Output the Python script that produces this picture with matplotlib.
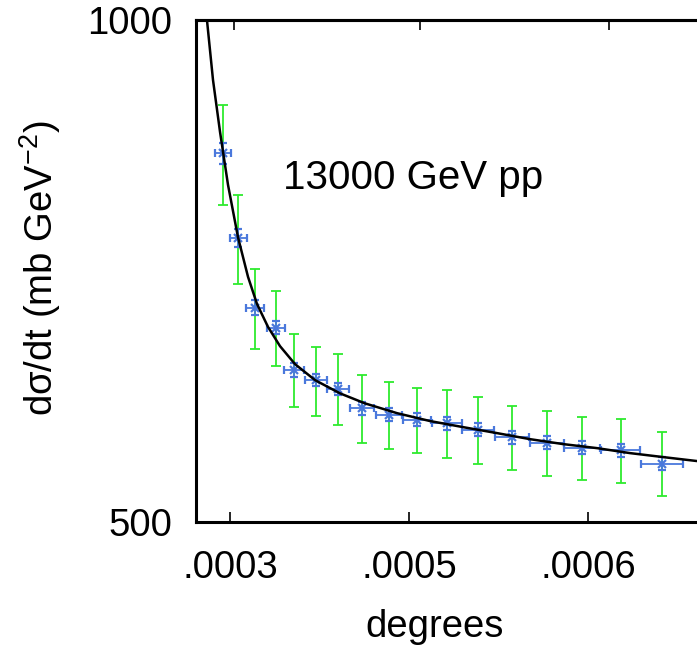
"""
    dσ/dt vs angle, 13000 GeV pp (Coulomb-nuclear region)
"""
import matplotlib
matplotlib.use("Agg")
import matplotlib.pyplot as plt

# data points (x axis in |t| GeV^2, labelled with angle in degrees)
t_pts = [0.001137, 0.001272, 0.001423, 0.001611, 0.001772, 0.001969, 0.002165,
         0.002380, 0.002621, 0.002871, 0.003139, 0.003416, 0.003720, 0.004033,
         0.004346, 0.004694, 0.005061]
t_err = [0.000070, 0.000076, 0.000080, 0.000080, 0.000090, 0.000100, 0.000100,
         0.000107, 0.000116, 0.000125, 0.000134, 0.000143, 0.000152, 0.000156,
         0.000165, 0.000174, 0.000188]
dsdt = [832, 740, 672, 654, 617, 608, 601, 585, 580, 576, 573, 568, 562, 558,
        554, 552, 542]
err_stat = [12, 9, 7, 6, 6, 5, 5, 5, 5, 5, 5, 5, 5, 5, 5, 5, 5]
err_tot = [57, 45, 37, 34, 31, 29, 29.5, 27.5, 27, 26, 27, 26, 25, 25, 24, 24.5, 24]

# fitted curve
t_fit = [0.000994, 0.001048, 0.001111, 0.001182, 0.001271, 0.001361, 0.001441,
         0.001540, 0.001647, 0.001781, 0.001960, 0.002183, 0.002406, 0.002692,
         0.002987, 0.003282, 0.003586, 0.003881, 0.004176, 0.004480, 0.004775,
         0.005070, 0.005374]
y_fit = [1000, 920.5, 856.6, 796.5, 741.0, 701.4, 675.7, 654.5, 637.4, 621.8,
         608.2, 597.2, 589.0, 581.1, 574.8, 570.0, 565.3, 560.6, 556.8, 553.7,
         549.9, 546.9, 543.9]

# tick positions and labels
xtick_pos = [0.0012, 0.0028, 0.0044]
xtick_lab = ['.0003', '.0005', '.0006']
x2tick_pos = [0.001236, 0.002898, 0.004587]
ytick_pos = [500, 1000]
ytick_lab = ['500', '1000']

plt.rcParams['font.family'] = ['Liberation Sans', 'DejaVu Sans']
plt.rcParams['mathtext.fontset'] = 'custom'
plt.rcParams['mathtext.rm'] = 'Liberation Sans'
plt.rcParams['mathtext.it'] = 'Liberation Sans'
fs = 27.5

fig = plt.figure(figsize=(6.97, 6.5), dpi=100)
ax = fig.add_axes([196/697, 1-522/650, 501/697, 502/650])

# total errors (green), then stat errors (blue) and the fit
ax.errorbar(t_pts, dsdt, yerr=err_tot, fmt='none', ecolor='#2eea2e',
            elinewidth=1.3, capsize=3.5, capthick=1.3, zorder=2)
ax.errorbar(t_pts, dsdt, xerr=t_err, yerr=err_stat, fmt='x', color='#4a78dc',
            ms=6, mew=1.6, ecolor='#4a78dc', elinewidth=1.3, capsize=3,
            capthick=1.3, zorder=3)
ax.plot(t_fit, y_fit, color='black', lw=1.8, zorder=4)

ax.set_yscale('log')
ax.set_xlim(0.000896, 0.005374)
ax.set_ylim(500, 1000)
ax.yaxis.set_minor_locator(matplotlib.ticker.NullLocator())
ax.set_yticks(ytick_pos)
ax.set_yticklabels(ytick_lab, fontsize=fs)
ax.set_xticks(xtick_pos)
ax.set_xticklabels(xtick_lab, fontsize=fs)
ax.tick_params(direction='in', length=7, width=1.2, pad=20)
ax.tick_params(axis='y', length=0, pad=17)

for s in ['left', 'bottom', 'top']:
    ax.spines[s].set_linewidth(2.2)
ax.spines['right'].set_visible(False)

# mirror ticks on top
ax2 = ax.twiny()
ax2.set_xlim(ax.get_xlim())
ax2.set_xticks(x2tick_pos)
ax2.set_xticklabels([])
ax2.tick_params(direction='in', length=7, width=1.2)
ax2.spines['right'].set_visible(False)
ax2.spines['top'].set_linewidth(2.2)

ax.text((283-196)/501, (522-178)/502, '13000 GeV pp', fontsize=29,
        ha='left', va='center', transform=ax.transAxes)
fig.text(435/697, 1-627/650, 'degrees', fontsize=fs, ha='center', va='center')
fig.text(40/697, 1-268/650, 'dσ/dt (mb GeV$^{-2}$)', fontsize=fs,
         rotation=90, ha='center', va='center')

plt.savefig('out.png', dpi=100)
